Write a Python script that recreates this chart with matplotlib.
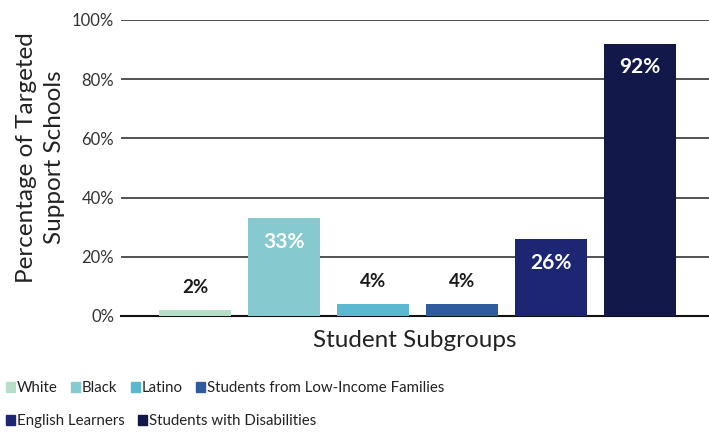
import matplotlib.pyplot as plt
from matplotlib.patches import Patch

plt.rcParams['font.family'] = ['Lato', 'DejaVu Sans']

# data
groups = ["White", "Black", "Latino", "Students from Low-Income Families",
          "English Learners", "Students with Disabilities"]
values = [2, 33, 4, 4, 26, 92]
colors = ["#b4dfc9", "#86c9ce", "#5bb8d1", "#2e5c9e", "#1c2673", "#13184a"]
label_colors = ["#1a1a1a", "white", "#1a1a1a", "#1a1a1a", "white", "white"]
yticks = [0, 20, 40, 60, 80, 100]

fig = plt.figure(figsize=(7.09, 4.33), dpi=100)
ax = fig.add_axes([121 / 709, 1 - 316 / 433, 1 - 121 / 709, 296 / 433])

x = list(range(len(groups)))
ax.bar(x, values, width=0.81, color=colors, zorder=3)

# value labels: inside top for tall bars, above for short ones
for xi, v, lc in zip(x, values, label_colors):
    if v > 10:
        ax.text(xi, v - 8, f"{v}%", ha="center", va="center", color=lc,
                fontsize=15, fontweight="bold", zorder=4)
    else:
        ax.text(xi, v + 7.5, f"{v}%", ha="center", va="center", color=lc,
                fontsize=13.5, fontweight="bold", zorder=4)

ax.set_xlim(-0.83, 5.775)
ax.set_ylim(0, 100)
ax.set_yticks(yticks)
ax.set_yticklabels([f"{t}%" for t in yticks], fontsize=12, color="#333333")
ax.set_xticks([])
ax.tick_params(axis="y", length=0, pad=5)
ax.grid(axis="y", color="#444444", linewidth=1.3, zorder=0)
for s in ["top", "right", "left"]:
    ax.spines[s].set_visible(False)
ax.spines["bottom"].set_color("#111111")
ax.spines["bottom"].set_linewidth(1.5)

ax.set_ylabel("Percentage of Targeted\nSupport Schools", fontsize=17.5,
              color="#222222", linespacing=1.4)
ax.yaxis.set_label_coords(-0.096, 0.535)
ax.set_xlabel("Student Subgroups", fontsize=17.5, color="#222222", labelpad=10)

# legend in two rows
handles = [Patch(color=c, label=g) for c, g in zip(colors, groups)]
leg_kw = dict(frameon=False, fontsize=10.8, handlelength=0.6, handleheight=0.7,
              handletextpad=0.12, columnspacing=0.9, borderaxespad=0,
              labelcolor="#222222")
fig.legend(handles=handles[:4], ncol=4, loc="center left",
           bbox_to_anchor=(0.0, 1 - 388 / 433), **leg_kw)
fig.legend(handles=handles[4:], ncol=2, loc="center left",
           bbox_to_anchor=(0.0, 1 - 421 / 433), **leg_kw)

fig.savefig("out.png", dpi=100)
